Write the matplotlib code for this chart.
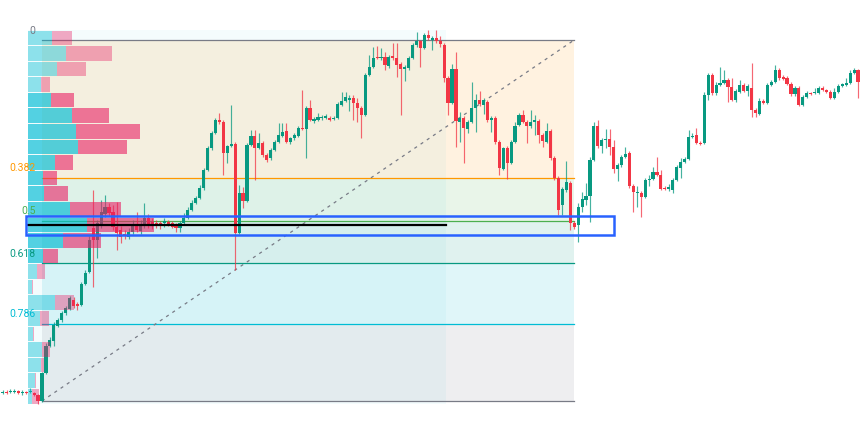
import numpy as np
import matplotlib
matplotlib.use("Agg")
import matplotlib.pyplot as plt
from matplotlib.patches import Rectangle

# ---------------- candle data (price units) ----------------
opens = [32,33,33,33,34,32,33,33,32,30,24,52,79,84,99,105,112,116,125,121,
         120,141,153,197,185,200,211,218,213,198,195,191,188,193,201,194,199,207,203,202,
         202,202,203,202,200,197,202,207,215,222,227,237,255,277,292,305,303,272,279,281,
         192,232,224,280,289,277,282,270,267,275,283,289,294,283,287,289,297,296,317,304,
         305,307,307,307,306,307,320,324,325,327,322,317,310,350,358,368,367,368,359,369,
         367,361,356,357,367,380,384,377,390,385,387,384,380,347,322,356,303,307,296,303,
         317,325,320,323,305,307,283,256,277,262,283,300,310,303,299,303,304,290,283,294,
         267,247,220,235,242,202,200,218,225,229,265,299,279,285,286,278,256,260,268,272,
         239,232,232,228,245,246,253,250,237,236,235,245,257,263,266,288,290,282,282,330,
         350,332,340,342,345,338,325,333,340,334,337,315,311,324,322,340,343,355,348,347,
         341,331,337,320,328,332,332,332,337,335,333,327,333,339,340,342,352,355]
highs = [35,35,36,36,35,35,34,37,33,31,53,82,88,103,107,114,119,129,128,123,
         143,155,189,235,205,225,230,222,220,223,199,195,197,205,213,205,222,211,207,205,
         204,207,205,204,202,204,212,218,225,229,240,257,279,294,307,312,305,280,320,283,
         240,238,282,295,295,292,284,272,277,285,302,302,302,288,292,299,335,319,325,308,
         312,310,311,309,309,323,333,333,330,330,327,319,352,370,378,379,377,373,370,382,
         382,363,360,369,382,393,385,392,395,389,395,389,382,349,361,373,313,309,305,343,
         331,334,327,325,309,309,285,278,279,285,303,312,315,305,315,310,306,292,302,296,
         269,249,238,264,244,204,222,233,242,268,303,305,287,296,296,285,262,270,278,274,
         241,239,234,247,250,258,268,255,239,241,247,260,267,268,295,292,297,284,333,352,
         352,343,358,355,347,347,336,345,342,341,362,317,327,326,342,345,360,357,350,349,
         343,339,339,330,334,333,337,339,339,336,335,337,341,342,347,355,357,356]
lows = [31,31,32,32,31,30,31,32,29,21,23,51,78,79,98,103,110,115,117,115,
        119,140,152,138,167,197,208,209,195,175,182,186,186,191,193,191,197,197,196,197,
        196,198,199,197,193,193,201,206,214,221,226,235,254,275,291,301,250,262,278,155,
        191,217,223,279,245,276,268,263,265,274,282,288,282,281,285,288,295,267,304,302,
        304,305,306,304,305,306,319,323,314,305,303,287,309,349,357,366,365,355,357,365,
        348,310,344,355,366,378,358,376,385,375,382,378,343,310,321,278,283,262,292,302,
        293,319,311,303,293,281,250,255,246,261,282,299,302,282,297,290,282,278,282,265,
        245,210,210,233,195,196,183,213,220,203,264,277,272,277,270,252,244,258,267,237,
        213,218,208,227,239,245,249,235,235,234,232,244,247,262,265,287,281,280,281,325,
        330,330,339,341,323,324,323,332,333,329,308,308,310,321,321,339,342,345,345,340,
        329,329,319,319,327,330,331,331,334,332,326,326,332,338,339,341,351,327]
closes = [33,32,34,34,32,33,32,34,30,24,52,79,85,100,105,112,117,127,119,119,
          141,152,185,185,202,213,218,212,198,192,188,189,193,201,195,200,207,201,199,200,
          199,204,200,198,197,202,207,215,222,227,237,255,277,292,305,303,272,279,281,192,
          232,224,280,289,277,282,270,265,275,283,290,293,283,287,290,297,296,317,305,306,
          308,308,309,305,307,321,324,328,327,322,317,310,350,358,367,367,368,360,368,367,
          360,356,358,367,380,384,377,390,387,387,384,381,347,322,356,304,307,297,303,317,
          325,321,325,305,307,283,257,277,262,283,299,310,303,299,303,305,290,284,294,267,
          247,215,236,243,202,198,218,226,229,265,299,279,285,286,278,256,260,268,271,239,
          233,233,228,245,246,253,250,236,236,238,245,258,263,266,288,289,282,281,330,350,
          332,340,342,345,338,325,334,340,334,339,315,312,324,322,340,343,355,347,346,341,
          331,337,320,328,332,331,333,337,335,333,327,333,339,341,342,352,355,343]

# ---------------- Fibonacci retracement ----------------
fib_levels = [0, 0.382, 0.5, 0.618, 0.786, 1]
fib_labels = ["0", "0.382", "0.5", "0.618", "0.786", ""]
fib_colors = ["#787B86", "#FF9800", "#4CAF50", "#089981", "#00BCD4", "#787B86"]
fib_start_bar, fib_end_bar = 10, 145
fib_low_price, fib_high_price = 24, 385

# ---------------- Volume profile (rows listed top -> bottom) ----------------
vp_first_bar, vp_last_bar = 7, 112
vp_up_volume = [24, 37, 28, 13, 23, 43, 47, 49, 27, 15, 16, 41, 58, 34, 15, 9, 4, 27, 12, 5, 14, 13, 7, 4]
vp_down_volume = [19, 46, 29, 9, 22, 37, 64, 49, 17, 13, 23, 51, 66, 38, 14, 8, 1, 18, 9, 1, 8, 3, 1, 7]
vp_value_area_rows = (4, 14)

# ---------------- highlighted zone ----------------
zone_bars = (6, 155)
zone_prices = (190, 209)

UP, DOWN = "#089981", "#F23645"

fig = plt.figure(figsize=(8.6, 4.25), dpi=100)
ax = fig.add_axes([0, 0, 1, 1])
ax.set_xlim(-0.654, 217.5)
ax.set_ylim(0, 425)
ax.axis("off")

# Fib fills and lines
def lvl_price(L):
    return fib_high_price - L * (fib_high_price - fib_low_price)

for k in range(len(fib_levels) - 1):
    p_top = lvl_price(fib_levels[k])
    p_bot = lvl_price(fib_levels[k + 1])
    ax.add_patch(Rectangle((fib_start_bar, p_bot), fib_end_bar - fib_start_bar, p_top - p_bot,
                           facecolor=fib_colors[k + 1], alpha=0.12, lw=0, zorder=1))
for L, lab, col in zip(fib_levels, fib_labels, fib_colors):
    p = lvl_price(L)
    ax.plot([fib_start_bar, fib_end_bar], [p, p], color=col, lw=0.9, zorder=2)
    if lab:
        ax.annotate(lab, xy=(fib_start_bar, p), xytext=(-4.5, 3.2), textcoords="offset points",
                    ha="right", va="bottom", fontsize=7.5, color=col, family="Roboto", zorder=7)
ax.plot([fib_start_bar, fib_end_bar], [fib_low_price, fib_high_price], color="#787B86",
        lw=0.9, dashes=(2.5, 3.5), zorder=2)

# Candles
n = len(opens)
xs = np.arange(n)
o = np.array(opens, float); h = np.array(highs, float)
l = np.array(lows, float); c = np.array(closes, float)
cols = np.where(c >= o, UP, DOWN)
ax.vlines(xs, l, h, colors=cols, lw=0.85, alpha=0.75, zorder=3)
body_bottom = np.minimum(o, c)
body_h = np.maximum(np.abs(c - o), 1.2)
ax.bar(xs, body_h, bottom=body_bottom, width=0.8, color=cols, lw=0, zorder=3.1)

# Volume profile
x0 = vp_first_bar - 0.5
x1 = vp_last_bar + 0.5
seg_l = slice(vp_first_bar, vp_last_bar + 1)
vp_lo = l[seg_l].min()
vp_hi = h[seg_l].max()
nrows = len(vp_up_volume)
rowh = (vp_hi - vp_lo) / nrows
ax.add_patch(Rectangle((x0, vp_lo), x1 - x0, vp_hi - vp_lo, facecolor="#00BCD4",
                       alpha=0.045, lw=0, zorder=1.2))
tot = np.array(vp_up_volume) + np.array(vp_down_volume)
scale = 0.30 * (x1 - x0) / tot.max()
for k in range(nrows):
    yb = vp_hi - (k + 1) * rowh
    in_va = vp_value_area_rows[0] <= k <= vp_value_area_rows[1]
    a = 0.66 if in_va else 0.42
    wu = vp_up_volume[k] * scale
    wd = vp_down_volume[k] * scale
    ax.add_patch(Rectangle((x0, yb + 0.5), wu, rowh - 1.0, facecolor="#00BCD4", alpha=a, lw=0, zorder=4))
    ax.add_patch(Rectangle((x0 + wu, yb + 0.5), wd, rowh - 1.0, facecolor="#E91E63", alpha=a * 0.9, lw=0, zorder=4))
poc = int(np.argmax(tot))
poc_p = vp_hi - (poc + 0.5) * rowh
ax.plot([x0, x1], [poc_p, poc_p], color="#000000", lw=1.6, zorder=5)

# Highlight zone
ax.add_patch(Rectangle((zone_bars[0], zone_prices[0]), zone_bars[1] - zone_bars[0],
                       zone_prices[1] - zone_prices[0], facecolor="none", edgecolor="#2962FF",
                       lw=1.8, zorder=6))

fig.savefig("out.png", dpi=100)
